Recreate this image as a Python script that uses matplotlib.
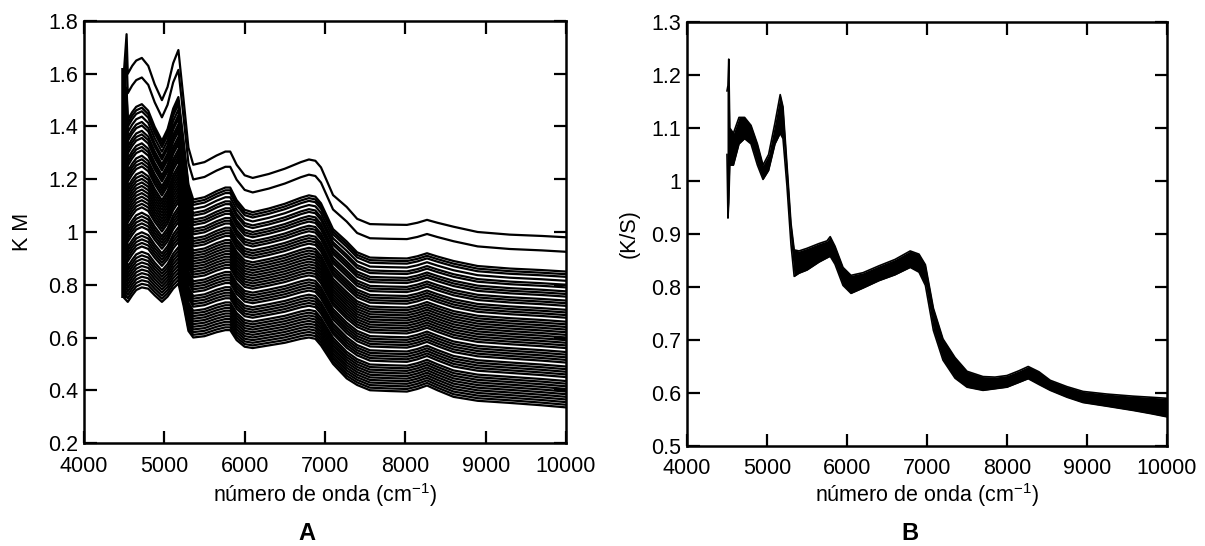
import numpy as np
import matplotlib.pyplot as plt
from matplotlib.ticker import FuncFormatter

plt.rcParams['font.family'] = ['Liberation Sans', 'DejaVu Sans']

# ---- panel A: envelope spectra (top and bottom of the family) ----
wn_a = [4500, 4530, 4545, 4600, 4650, 4720, 4800, 4880, 4970, 5040, 5110, 5175,
        5240, 5300, 5360, 5500, 5650, 5760, 5820, 5900, 6000, 6100, 6300, 6500, 6700,
        6800, 6880, 6950, 7100, 7270, 7400, 7560, 7800, 8020, 8150, 8270, 8400, 8600,
        8900, 9300, 9700, 10000]
top_a = [1.62, 1.75, 1.60, 1.63, 1.65, 1.66, 1.63, 1.56, 1.50, 1.55, 1.64, 1.69,
         1.50, 1.32, 1.255, 1.265, 1.29, 1.305, 1.305, 1.255, 1.215, 1.205, 1.22, 1.24, 1.265,
         1.275, 1.27, 1.245, 1.14, 1.095, 1.05, 1.03, 1.028, 1.027, 1.035, 1.046, 1.035, 1.02,
         1.00, 0.99, 0.985, 0.98]
bottom_a = [0.75, 0.74, 0.735, 0.76, 0.78, 0.79, 0.785, 0.76, 0.735, 0.755, 0.785, 0.805,
            0.72, 0.625, 0.60, 0.605, 0.62, 0.628, 0.628, 0.59, 0.565, 0.56, 0.57, 0.58, 0.595,
            0.60, 0.595, 0.57, 0.50, 0.445, 0.42, 0.40, 0.397, 0.395, 0.405, 0.418, 0.40, 0.375,
            0.36, 0.352, 0.343, 0.335]

# level of each spectrum at 10000 cm-1, read from the right edge
end_levels_a = [0.98, 0.925, 0.85, 0.84, 0.83, 0.815, 0.80, 0.79, 0.775, 0.765,
                0.755, 0.74, 0.73, 0.72, 0.705, 0.695, 0.685, 0.675, 0.66, 0.65,
                0.64, 0.63, 0.62, 0.61, 0.60, 0.59, 0.58, 0.57, 0.56, 0.545,
                0.535, 0.525, 0.515, 0.505, 0.49, 0.48, 0.47, 0.46, 0.45, 0.435,
                0.425, 0.415, 0.405, 0.395, 0.385, 0.375, 0.365, 0.355, 0.345, 0.335]

# ---- panel B: band of replicate spectra (upper / lower edge) ----
wn_b = [4500, 4512, 4522, 4535, 4580, 4650, 4720, 4800, 4880, 4950, 5020, 5100,
        5165, 5200, 5250, 5300, 5340, 5400, 5500, 5650, 5750, 5790, 5850, 5950,
        6050, 6200, 6400, 6600, 6790, 6900, 6980, 7080, 7200, 7350, 7500, 7700,
        7850, 8000, 8150, 8265, 8400, 8540, 8750, 8950, 9250, 9580, 9800, 10000]
upper_b = [1.17, 1.18, 1.23, 1.10, 1.09, 1.12, 1.12, 1.105, 1.07, 1.03, 1.05, 1.11,
           1.163, 1.14, 1.03, 0.92, 0.87, 0.868, 0.873, 0.882, 0.887, 0.895, 0.877, 0.837,
           0.822, 0.827, 0.84, 0.852, 0.868, 0.862, 0.842, 0.76, 0.702, 0.667, 0.641, 0.631,
           0.63, 0.633, 0.642, 0.65, 0.64, 0.624, 0.612, 0.603, 0.598, 0.594, 0.592, 0.59]
lower_b = [1.05, 0.93, 0.96, 1.03, 1.03, 1.07, 1.08, 1.07, 1.03, 1.003, 1.02, 1.07,
           1.09, 1.08, 0.99, 0.88, 0.82, 0.826, 0.832, 0.847, 0.855, 0.858, 0.843, 0.803,
           0.788, 0.798, 0.812, 0.823, 0.837, 0.828, 0.803, 0.718, 0.662, 0.628, 0.611, 0.605,
           0.608, 0.611, 0.62, 0.627, 0.616, 0.605, 0.592, 0.582, 0.575, 0.567, 0.561, 0.555]


def style_axes(ax, ylim, ystep):
    ax.set_xlim(4000, 10000)
    ax.set_ylim(*ylim)
    ax.set_xticks(np.arange(4000, 10001, 1000))
    ax.set_yticks(np.arange(ylim[0], ylim[1] + 1e-9, ystep))
    ax.yaxis.set_major_formatter(FuncFormatter(lambda v, p: '%g' % round(v, 2)))
    ax.tick_params(direction='in', top=True, right=True, length=9, width=1.6,
                   labelsize=15.5)
    ax.tick_params(axis='x', pad=9)
    ax.tick_params(axis='y', pad=4)
    for s in ax.spines.values():
        s.set_linewidth(1.8)


fig = plt.figure(figsize=(12.05, 5.46), dpi=100)
axA = fig.add_axes([84 / 1205, 1 - 443 / 546, 482 / 1205, 422 / 546])
axB = fig.add_axes([687 / 1205, 1 - 446 / 546, 480 / 1205, 424 / 546])

xlab = 'número de onda (cm$^{\\mathregular{-1}}$)'

# panel A
top = np.array(top_a)
bot = np.array(bottom_a)
for lvl in end_levels_a:
    f = (lvl - bottom_a[-1]) / (top_a[-1] - bottom_a[-1])
    axA.plot(wn_a, bot + f * (top - bot), color='black', lw=1.6)
axA.vlines(wn_a[0], bottom_a[0], top_a[0], color='black', lw=4)
style_axes(axA, (0.2, 1.8), 0.2)
axA.set_ylabel('K M', fontsize=15.5)
axA.yaxis.set_label_coords(-0.106, 0.5)
axA.set_xlabel(xlab, fontsize=15.5)
axA.xaxis.set_label_coords(0.5, -0.09)

# panel B
axB.fill_between(wn_b, lower_b, upper_b, color='black', lw=0)
axB.plot(wn_b, upper_b, color='black', lw=1.2)
axB.plot(wn_b, lower_b, color='black', lw=1.2)
style_axes(axB, (0.5, 1.3), 0.1)
axB.set_ylabel('(K/S)', fontsize=15.5)
axB.yaxis.set_label_coords(-0.098, 0.5)
axB.set_xlabel(xlab, fontsize=15.5)
axB.xaxis.set_label_coords(0.5, -0.083)

fig.text(307 / 1205, 1 - 533 / 546, 'A', fontsize=17, fontweight='bold', ha='center', va='center')
fig.text(910 / 1205, 1 - 533 / 546, 'B', fontsize=17, fontweight='bold', ha='center', va='center')

fig.savefig('out.png', dpi=100)
